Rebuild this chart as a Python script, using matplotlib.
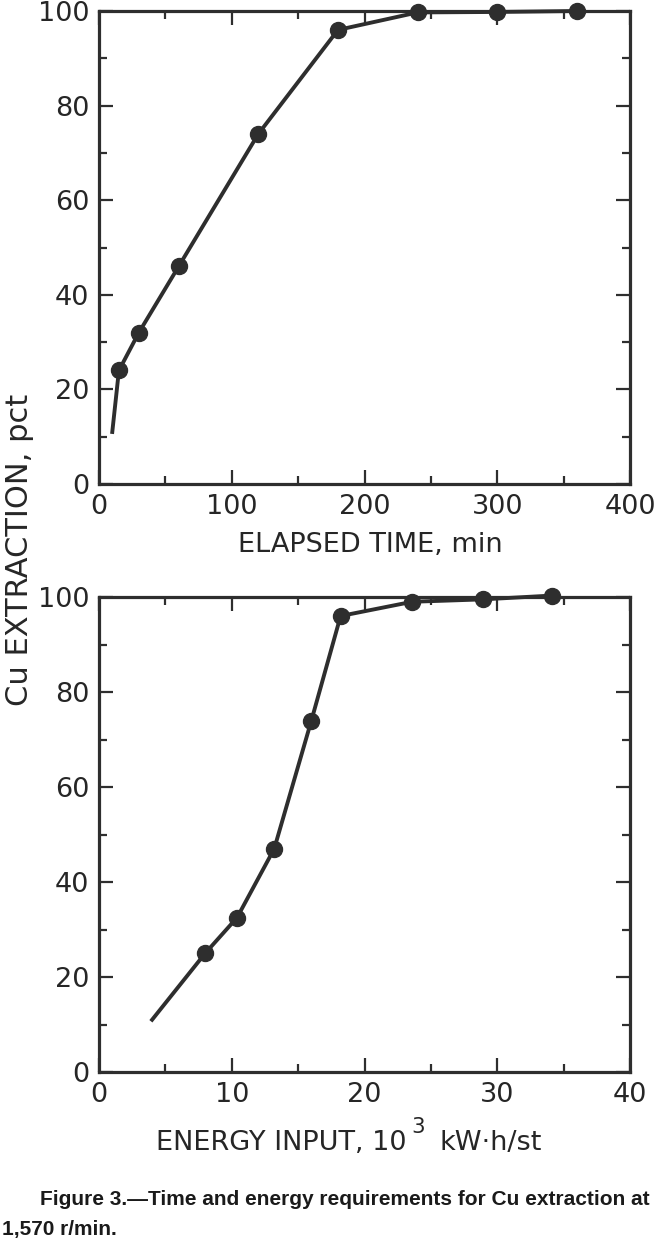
import matplotlib
matplotlib.use("Agg")
import matplotlib.pyplot as plt
from matplotlib.ticker import MultipleLocator

# ---- data ----
time_min = [10, 15, 30, 60, 120, 180, 240, 300, 360]
time_extraction = [11, 24, 32, 46, 74, 96, 99.7, 99.8, 100]

energy_kwh = [4.0, 8.0, 10.4, 13.2, 16.0, 18.2, 23.6, 28.9, 34.1]
energy_extraction = [11, 25, 32.5, 47, 74, 96, 99, 99.5, 100.3]

time_ticks = [0, 100, 200, 300, 400]
energy_ticks = [0, 10, 20, 30, 40]
pct_ticks = [0, 20, 40, 60, 80, 100]

ylabel = "Cu EXTRACTION, pct"
xlabel_top = "ELAPSED TIME, min"
xlabel_bottom_main = "ENERGY INPUT, 10"
xlabel_bottom_sup = "3"
xlabel_bottom_unit = "kW\u00b7h/st"
caption1 = "Figure 3.\u2014Time and energy requirements for Cu extraction at"
caption2 = "1,570 r/min."

# ---- style ----
INK = "#2e2e2e"
TXT = "#262626"
plt.rcParams["font.family"] = ["DejaVu Sans"]

W, H = 663, 1240
fig = plt.figure(figsize=(W / 100, H / 100), dpi=100)
fig.patch.set_facecolor("white")


def fx(px):
    return px / W


def fy(py):
    return 1 - py / H


ax1 = fig.add_axes([fx(99), fy(484), 531 / W, 473 / H])
ax2 = fig.add_axes([fx(99), fy(1072), 531 / W, 475 / H])


def style(ax, xmax, xticks, xminor):
    ax.set_xlim(0, xmax)
    ax.set_ylim(0, 100)
    ax.set_xticks(xticks)
    ax.set_yticks(pct_ticks)
    ax.xaxis.set_minor_locator(MultipleLocator(xminor))
    ax.yaxis.set_minor_locator(MultipleLocator(10))
    ax.tick_params(which="both", direction="in", top=True, right=True,
                   color=INK, width=1.6, labelsize=19.5, labelcolor=TXT)
    ax.tick_params(which="major", length=10, pad=7)
    ax.tick_params(which="minor", length=5.5)
    for s in ax.spines.values():
        s.set_linewidth(2.3)
        s.set_color(INK)
        s.set_zorder(5)


def draw(ax, x, y):
    ax.plot(x, y, color=INK, lw=2.8, solid_joinstyle="round", clip_on=False, zorder=3)
    ax.plot(x[1:], y[1:], linestyle="none", marker="o", markersize=11.5,
            color=INK, clip_on=False, zorder=4)


style(ax1, 400, time_ticks, 50)
draw(ax1, time_min, time_extraction)

style(ax2, 40, energy_ticks, 5)
draw(ax2, energy_kwh, energy_extraction)

# top x label
fig.text(fx(370), fy(552), xlabel_top, ha="center", va="baseline",
         fontsize=19.5, color=TXT)

# bottom x label with raised exponent
t_main = fig.text(fx(156), fy(1150), xlabel_bottom_main, ha="left", va="baseline",
                  fontsize=19.5, color=TXT)
fig.canvas.draw()
r = fig.canvas.get_renderer()
bb = t_main.get_window_extent(r)
t_sup = fig.text((bb.x1 + 5) / W, fy(1133), xlabel_bottom_sup, ha="left", va="baseline",
                 fontsize=15.5, color=TXT)
bb2 = t_sup.get_window_extent(r)
fig.text((bb2.x1 + 14) / W, fy(1150), xlabel_bottom_unit, ha="left", va="baseline",
         fontsize=19.5, color=TXT)

# y label
fig.text(fx(20), fy(550), ylabel, rotation=90, ha="center", va="center",
         fontsize=22, color=TXT)

# caption
fig.text(fx(40), fy(1205), caption1, ha="left", va="baseline", family=["Liberation Sans"],
         fontsize=15.0, fontweight="bold", color="#1a1a1a")
fig.text(fx(2), fy(1235), caption2, ha="left", va="baseline", family=["Liberation Sans"],
         fontsize=15.0, fontweight="bold", color="#1a1a1a")

fig.savefig("out.png", dpi=100, facecolor="white")
